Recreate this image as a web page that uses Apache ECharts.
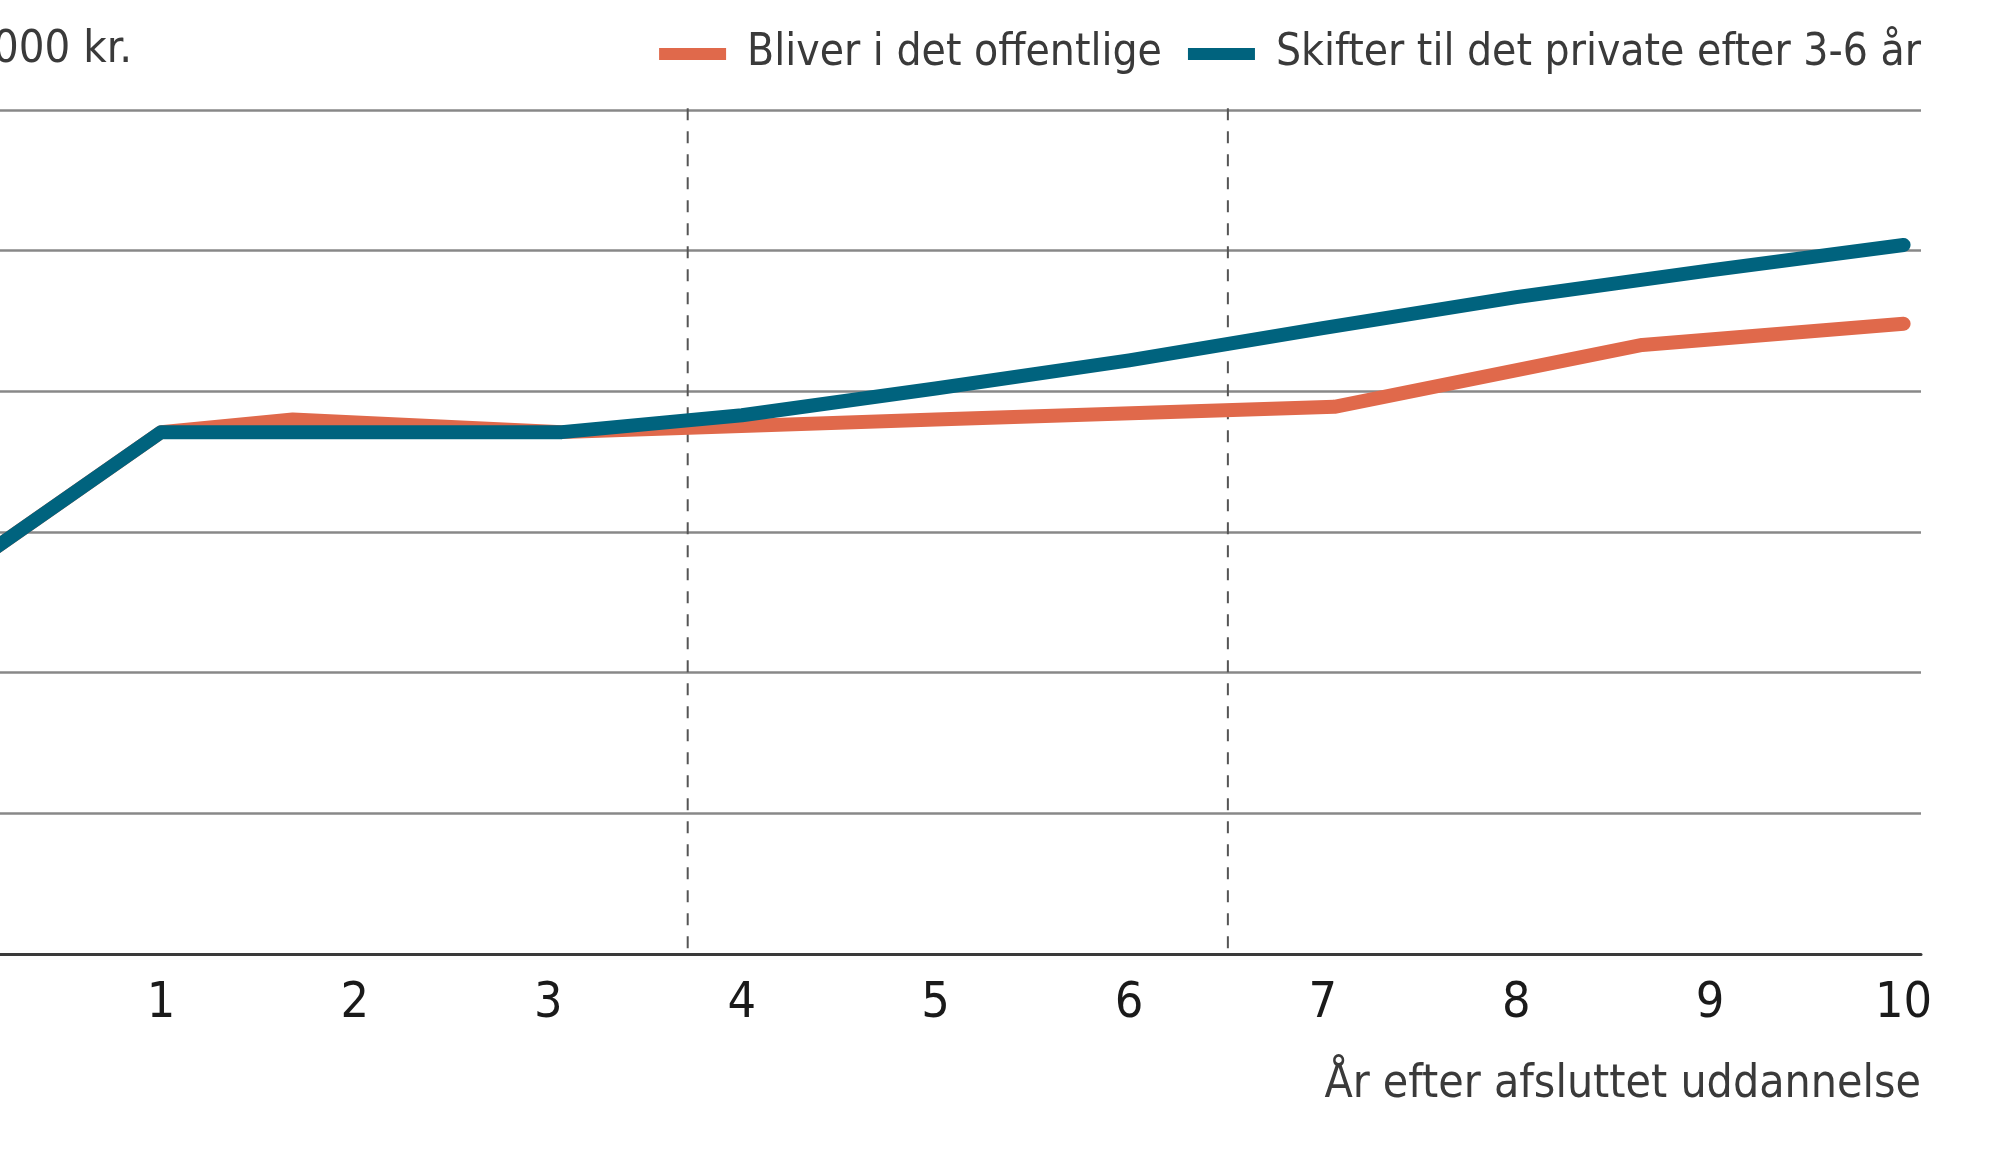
<!DOCTYPE html>
<html>
<head>
<meta charset="utf-8">
<script src="https://cdn.jsdelivr.net/npm/echarts@6/dist/echarts.min.js"></script>
<style>
  html, body { margin: 0; padding: 0; background: #ffffff; }
  #chart { width: 2000px; height: 1165px; }
</style>
</head>
<body>
<div id="chart"></div>
<script>
// ---- data ----
const seriesNames = ['Bliver i det offentlige', 'Skifter til det private efter 3-6 år'];
const offentligX = [0, 1, 1.68, 3.07, 5, 7.06, 8.65, 10];
const offentligY = [27.5, 37.1, 38.0, 37.1, 38.0, 38.9, 43.3, 44.8];
const privatX = [0, 1, 3.07, 4, 5, 6, 7, 8, 9, 10];
const privatY = [27.5, 37.1, 37.1, 38.3, 40.2, 42.2, 44.5, 46.7, 48.6, 50.4];
const phaseMarks = [3.72, 6.51];
const xTickValues = [1, 2, 3, 4, 5, 6, 7, 8, 9, 10];
const xTickLabels = ['1', '2', '3', '4', '5', '6', '7', '8', '9', '10'];
const yUnit = '1.000 kr.';
const xTitle = 'År efter afsluttet uddannelse';

const FONT = '"DejaVu Sans Condensed", "Liberation Sans Narrow", "Roboto", sans-serif';
const ORANGE = '#e0694b';
const BLUE = '#00637e';

const zip = (xs, ys) => xs.map((x, i) => [x, ys[i]]);

const chart = echarts.init(document.getElementById('chart'), null, { renderer: 'canvas' });

const dashSeries = phaseMarks.map(v => ({
  type: 'line',
  name: 'phase-' + v,
  data: [[v, 0.4], [v, 60.7]],
  symbol: 'none',
  clip: false,
  silent: true,
  z: 1,
  lineStyle: { color: '#555555', width: 2, type: [12, 11] }
}));

chart.setOption({
  animation: false,
  backgroundColor: '#ffffff',
  textStyle: { fontFamily: FONT },
  grid: { left: 0, right: 79, top: 110, bottom: 211, containLabel: false },
  legend: {
    data: seriesNames,
    right: 74,
    top: 22,
    icon: 'rect',
    itemWidth: 67,
    itemHeight: 12,
    itemGap: 26,
    textStyle: { fontFamily: FONT, fontSize: 44, color: '#3a3a3a', lineHeight: 54, padding: [0, 0, 0, 16] }
  },
  graphic: [{
    type: 'text',
    x: 132,
    y: 50,
    style: { text: yUnit, textAlign: 'right', textVerticalAlign: 'middle', fontFamily: FONT, fontSize: 45, fill: '#3a3a3a' }
  }],
  xAxis: {
    type: 'value',
    min: 0.168,
    max: 10.09,
    name: xTitle,
    nameLocation: 'end',
    nameGap: 0,
    nameTextStyle: { fontFamily: FONT, fontSize: 46, color: '#3a3a3a', align: 'right', verticalAlign: 'top', padding: [108, 0, 0, 0] },
    axisLine: { show: true, lineStyle: { color: '#3a3a3a', width: 3 } },
    axisTick: { show: false },
    splitLine: { show: false },
    axisLabel: {
      show: true,
      customValues: xTickValues,
      margin: 25,
      fontFamily: FONT,
      fontSize: 50,
      color: '#1a1a1a',
      formatter: v => xTickLabels[xTickValues.indexOf(Math.round(v))] ?? ''
    }
  },
  yAxis: {
    type: 'value',
    min: 0,
    max: 60,
    interval: 10,
    axisLine: { show: false },
    axisTick: { show: false },
    axisLabel: { show: false },
    splitLine: { show: true, lineStyle: { color: '#888888', width: 2.5 } }
  },
  series: [
    ...dashSeries,
    {
      type: 'line',
      name: seriesNames[0],
      data: zip(offentligX, offentligY),
      symbol: 'none',
      z: 3,
      color: ORANGE,
      lineStyle: { color: ORANGE, width: 14, cap: 'round', join: 'round' }
    },
    {
      type: 'line',
      name: seriesNames[1],
      data: zip(privatX, privatY),
      symbol: 'none',
      z: 4,
      color: BLUE,
      lineStyle: { color: BLUE, width: 14, cap: 'round', join: 'round' }
    }
  ]
});
</script>
</body>
</html>
